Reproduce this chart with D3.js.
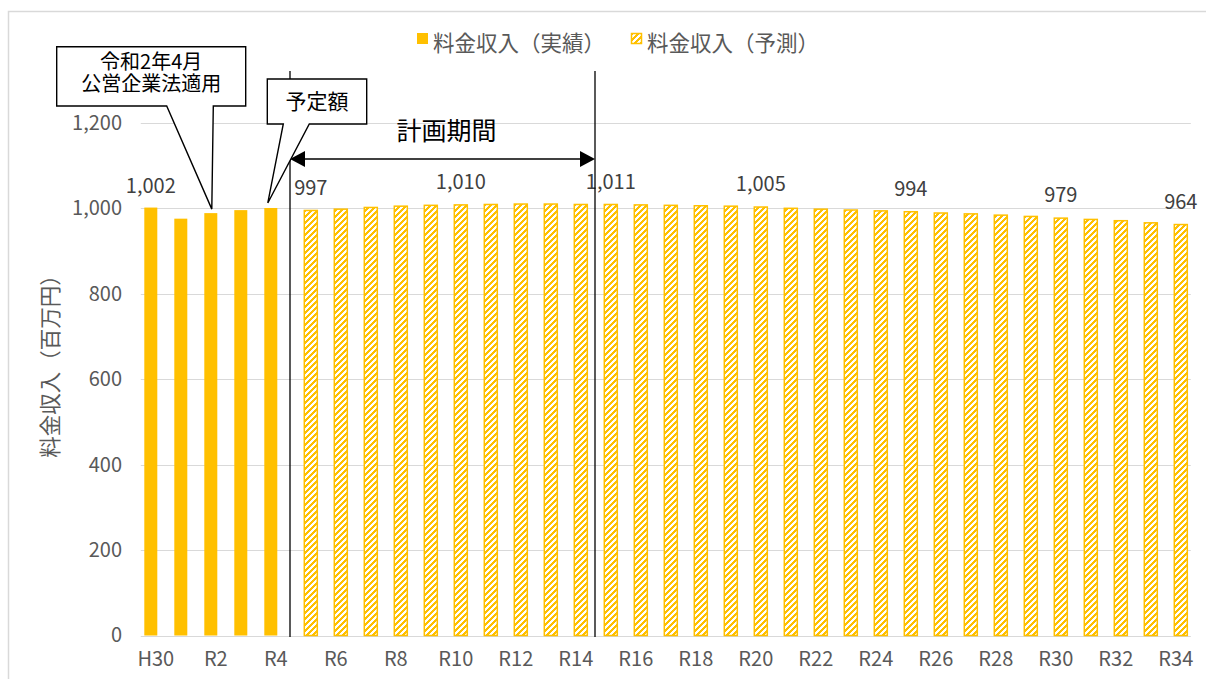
<!DOCTYPE html>
<html>
<head>
<meta charset="utf-8">
<script src="https://cdn.jsdelivr.net/npm/d3@7/dist/d3.min.js"></script>
<style>
  body { margin: 0; background: #fff; }
  svg { font-family: "Noto Sans CJK JP", "Noto Sans", sans-serif; }
</style>
</head>
<body>
<div id="root"></div>
<script>
"use strict";

// categories H30, R1 ... R34
var categories = ["H30"].concat(d3.range(1, 35).map(function (i) { return "R" + i; }));

// 料金収入（実績） H30..R4
var actualCats = ["H30", "R1", "R2", "R3", "R4"];
var actualValues = [1002, 976, 989, 996, 1001];

// 料金収入（予測） R5..R34
var forecastCats = d3.range(5, 35).map(function (i) { return "R" + i; });
var forecastValues = [997, 1000, 1004, 1007, 1009, 1010, 1011, 1012, 1012, 1011,
    1011, 1010, 1009, 1008, 1007, 1005, 1002, 1000, 998, 996,
    994, 991, 989, 986, 983, 979, 976, 973, 968, 964];

var seriesNames = ["料金収入（実績）", "料金収入（予測）"];
var yTicks = [0, 200, 400, 600, 800, 1000, 1200];
var labelledCats = ["H30", "R5", "R10", "R15", "R20", "R25", "R30", "R34"];

var width = 1206, height = 679;
var color = "#FFC000", textGray = "#595959", gridGray = "#d9d9d9";

var svg = d3.select("#root").append("svg")
    .attr("width", width)
    .attr("height", height);

// chart border
svg.append("rect")
    .attr("x", 8.5).attr("y", 11.5)
    .attr("width", 1220).attr("height", 690)
    .attr("fill", "none")
    .attr("stroke", gridGray)
    .attr("stroke-width", 1.5);

// hatch pattern for the forecast bars
var defs = svg.append("defs");
var pat = defs.append("pattern")
    .attr("id", "hatch")
    .attr("patternUnits", "userSpaceOnUse")
    .attr("width", 6).attr("height", 6);
pat.append("rect").attr("width", 6).attr("height", 6).attr("fill", "#fff");
pat.append("path")
    .attr("d", "M0,6 L6,0 M-1,1 L1,-1 M5,7 L7,5")
    .attr("stroke", color)
    .attr("stroke-width", 2.6)
    .attr("shape-rendering", "crispEdges");

var x = d3.scaleBand()
    .domain(categories)
    .range([140.8, 1190.8])
    .padding(0);

var sub = d3.scaleBand()
    .domain(["actual", "forecast"])
    .range([x.bandwidth() / 2 - 10, x.bandwidth() / 2 + 10]);

var barW = 13;

var y = d3.scaleLinear()
    .domain([0, 1200])
    .range([635.5, 123]);

function barCx(cat, s) {
    return x(cat) + sub(s) + sub.bandwidth() / 2;
}

// gridlines
svg.append("g")
    .selectAll("line")
    .data(yTicks)
    .enter()
    .append("line")
    .attr("x1", x.range()[0]).attr("x2", x.range()[1])
    .attr("y1", function (d) { return Math.round(y(d)) + 0.5; })
    .attr("y2", function (d) { return Math.round(y(d)) + 0.5; })
    .attr("stroke", gridGray)
    .attr("stroke-width", 1.2);

// y axis labels
var yAxis = svg.append("g")
    .attr("transform", "translate(122,0)")
    .call(d3.axisLeft(y).tickValues(yTicks).tickFormat(d3.format(",")).tickSize(0).tickPadding(0));
yAxis.select(".domain").remove();
yAxis.selectAll("text")
    .attr("fill", textGray)
    .style("font-size", "20px")
    .style("font-family", "\"Noto Sans CJK JP\", sans-serif");

// x axis labels
var xAxis = svg.append("g")
    .attr("transform", "translate(0,656)")
    .call(d3.axisBottom(x)
        .tickValues(categories.filter(function (d, i) { return i % 2 === 0; }))
        .tickSize(0).tickPadding(0));
xAxis.select(".domain").remove();
xAxis.selectAll("text")
    .attr("fill", textGray)
    .attr("dy", "0.5em")
    .style("font-size", "20px")
    .style("font-family", "\"Noto Sans CJK JP\", sans-serif");

// y title
svg.append("text")
    .attr("transform", "translate(48,361) rotate(-90)")
    .attr("text-anchor", "middle")
    .attr("dominant-baseline", "central")
    .attr("fill", textGray)
    .style("font-size", "21.5px")
    .text("料金収入（百万円）");

// bars
var actualData = actualCats.map(function (c, i) { return { cat: c, v: actualValues[i], s: "actual" }; });
var forecastData = forecastCats.map(function (c, i) { return { cat: c, v: forecastValues[i], s: "forecast" }; });

svg.append("g")
    .selectAll("rect")
    .data(actualData)
    .enter()
    .append("rect")
    .attr("x", function (d) { return barCx(d.cat, d.s) - barW / 2; })
    .attr("y", function (d) { return y(d.v); })
    .attr("width", barW)
    .attr("height", function (d) { return y(0) - y(d.v); })
    .attr("fill", color);

svg.append("g")
    .selectAll("rect")
    .data(forecastData)
    .enter()
    .append("rect")
    .attr("x", function (d) { return barCx(d.cat, d.s) - barW / 2; })
    .attr("y", function (d) { return y(d.v) + 0.75; })
    .attr("width", barW)
    .attr("height", function (d) { return y(0) - y(d.v) - 0.75; })
    .attr("fill", "url(#hatch)")
    .attr("stroke", color)
    .attr("stroke-width", 1.5);

// data labels
var allData = actualData.concat(forecastData);
svg.append("g")
    .selectAll("text")
    .data(allData.filter(function (d) { return labelledCats.indexOf(d.cat) >= 0; }))
    .enter()
    .append("text")
    .attr("x", function (d) { return barCx(d.cat, d.s); })
    .attr("y", function (d) { return y(d.v) - 15; })
    .attr("text-anchor", "middle")
    .attr("fill", "#404040")
    .style("font-size", "20px")
    .text(function (d) { return d3.format(",")(d.v); });

// planning period lines
var lineA = x("R5") - 0.8;
var lineB = x("R15") + 4.2;
[lineA, lineB].forEach(function (lx) {
    svg.append("line")
        .attr("x1", lx).attr("x2", lx)
        .attr("y1", 71).attr("y2", 637)
        .attr("stroke", "#000")
        .attr("stroke-width", 1.3);
});

// double arrow
var arrowY = 159;
svg.append("line")
    .attr("x1", lineA + 14).attr("x2", lineB - 14)
    .attr("y1", arrowY).attr("y2", arrowY)
    .attr("stroke", "#000").attr("stroke-width", 1.5);
svg.append("path")
    .attr("d", "M" + lineA + "," + arrowY + " l15,-8 v16 z")
    .attr("fill", "#000");
svg.append("path")
    .attr("d", "M" + lineB + "," + arrowY + " l-15,-8 v16 z")
    .attr("fill", "#000");
svg.append("text")
    .attr("x", (lineA + lineB) / 2 + 4)
    .attr("y", 129)
    .attr("text-anchor", "middle")
    .attr("dominant-baseline", "central")
    .attr("fill", "#000")
    .style("font-size", "25px")
    .text("計画期間");

// callouts
function callout(box, tail, tip, lines, fontSize, lineGap, shift) {
    var p = "M" + box.x0 + "," + box.y0 +
        " H" + box.x1 + " V" + box.y1 +
        " H" + tail[1] + " L" + tip[0] + "," + tip[1] +
        " L" + tail[0] + "," + box.y1 +
        " H" + box.x0 + " Z";
    svg.append("path")
        .attr("d", p)
        .attr("fill", "#fff")
        .attr("stroke", "#000")
        .attr("stroke-width", 1.4);
    var cx = (box.x0 + box.x1) / 2;
    var cy = (box.y0 + box.y1) / 2 + shift;
    var t = svg.append("text")
        .attr("text-anchor", "middle")
        .attr("fill", "#000")
        .style("font-size", fontSize + "px");
    lines.forEach(function (s, i) {
        t.append("tspan")
            .attr("x", cx)
            .attr("y", cy + (i - (lines.length - 1) / 2) * lineGap)
            .attr("dy", "0.36em")
            .text(s);
    });
}

var r2x = barCx("R2", "actual"), r4x = barCx("R4", "actual");
callout({ x0: 56.7, y0: 46.7, x1: 245.7, y1: 106 }, [166.7, 213.3],
    [r2x + 1, y(actualValues[2]) - 4], ["令和2年4月", "公営企業法適用"], 20, 22, -3.5);
callout({ x0: 267.3, y0: 79, x1: 366.7, y1: 124 }, [283.3, 309.3],
    [r4x - 3, y(actualValues[4]) - 5], ["予定額"], 21, 0, 0);

// legend
var legend = svg.append("g");
legend.append("rect")
    .attr("x", 417).attr("y", 33).attr("width", 11).attr("height", 11)
    .attr("fill", color);
legend.append("text")
    .attr("x", 433).attr("y", 41)
    .attr("dominant-baseline", "central")
    .attr("fill", textGray)
    .style("font-size", "21.5px")
    .text(seriesNames[0]);
legend.append("rect")
    .attr("x", 631.5).attr("y", 33.5).attr("width", 10).attr("height", 10)
    .attr("fill", "url(#hatch)")
    .attr("stroke", color).attr("stroke-width", 1.5);
legend.append("text")
    .attr("x", 647).attr("y", 41)
    .attr("dominant-baseline", "central")
    .attr("fill", textGray)
    .style("font-size", "21.5px")
    .text(seriesNames[1]);
</script>
</body>
</html>
